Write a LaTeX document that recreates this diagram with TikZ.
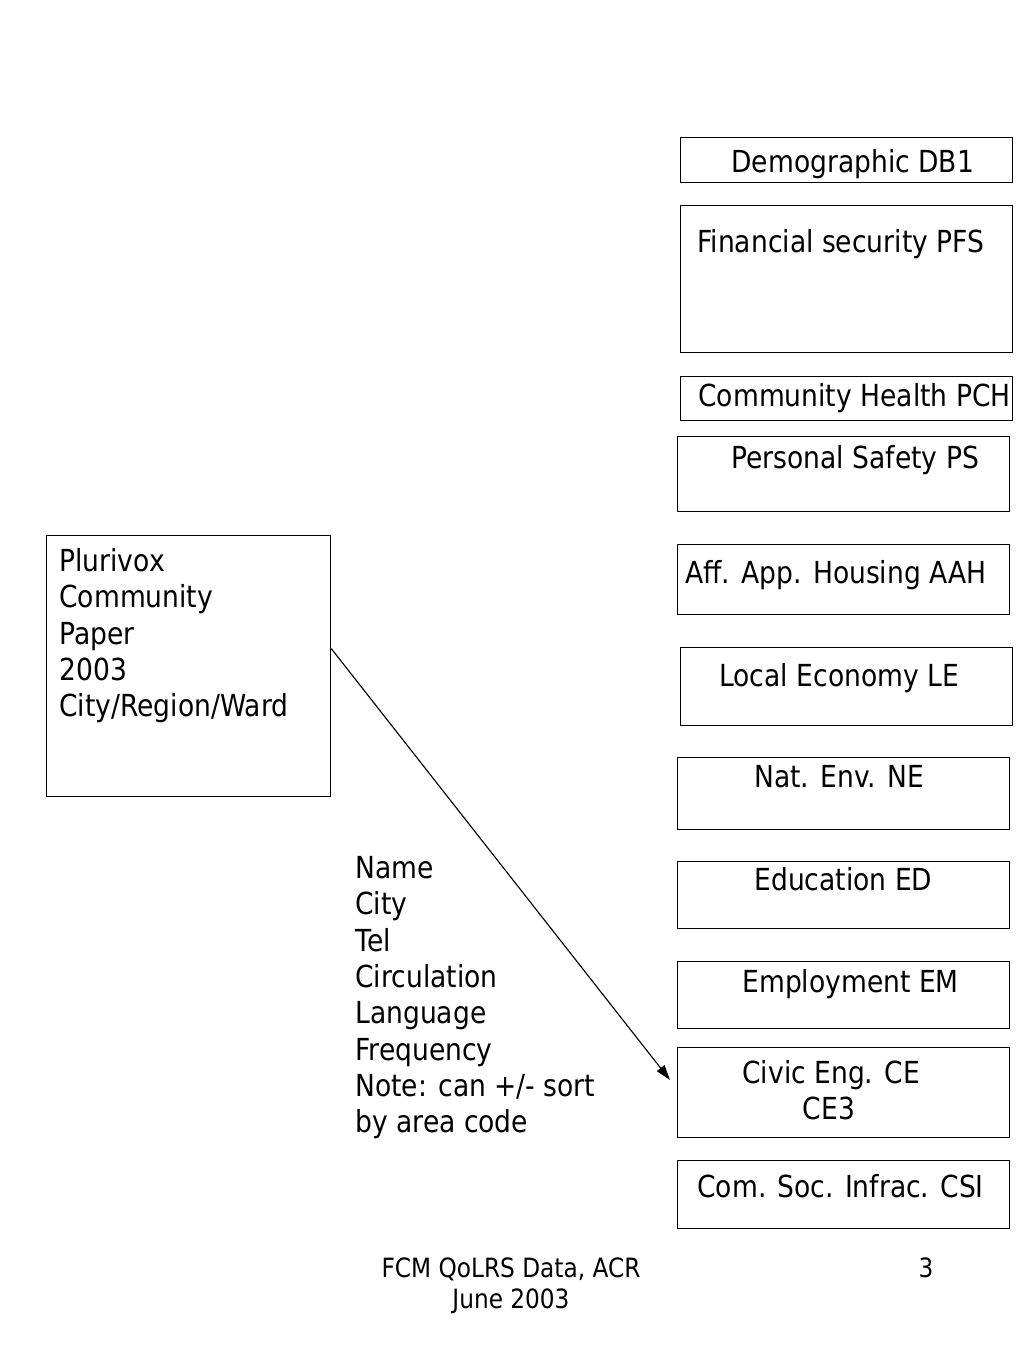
\documentclass[tikz,border=0pt]{standalone}
\usepackage{fontspec}
\setmainfont[FakeStretch=0.875]{DejaVu Sans}
\usetikzlibrary{arrows.meta,calc}
\begin{document}
\begin{tikzpicture}[x=0.52734pt,y=-0.52734pt,
  box/.style={draw=black,line width=0.65pt,rectangle,inner sep=0pt,anchor=north west},
  txt/.style={inner sep=0pt,anchor=base west,font=\fontsize{16}{19.15}\selectfont},
  ml/.style={inner sep=0pt,anchor=north west,align=left,font=\fontsize{16}{19.15}\selectfont},
  foot/.style={inner sep=0pt,anchor=base,align=center,font=\fontsize{14}{16.4}\selectfont},
  conn/.style={draw=black,line width=0.6pt,-{Triangle[length=8pt,width=5pt]}}]
\useasboundingbox (0,0) rectangle (1024,1365);
\newcommand{\bx}[5]{\node[box,minimum width={(#4-#2)*0.52734pt},minimum height={(#5-#3)*0.52734pt}] (#1) at (#2,#3) {};}
\bx{db}{680}{137}{1012}{182}
\bx{pfs}{680}{205}{1012}{352}
\bx{pch}{680}{376}{1012}{420}
\bx{ps}{677}{436}{1009}{511}
\bx{aah}{677}{544}{1009}{614}
\bx{le}{680}{647}{1012}{725}
\bx{ne}{677}{757}{1009}{829}
\bx{ed}{677}{861}{1009}{928}
\bx{em}{677}{961}{1009}{1028}
\bx{ce}{677}{1047}{1009}{1137}
\bx{csi}{677}{1160}{1009}{1228}
\bx{pv}{46}{535}{330}{796}
\node[txt] (tdb) at (731,173) {Demographic DB1};
\node[txt] (tpfs) at (697,253) {Financial security PFS};
\node[txt] (tpch) at (698,407) {Community Health PCH};
\node[txt] (tps) at (731,469) {Personal Safety PS};
\node[txt] (taah) at (685,583) {Aff. App. Housing AAH};
\node[txt] (tle) at (719,686) {Local Economy LE};
\node[txt] (tne) at (754,787) {Nat. Env. NE};
\node[txt] (ted) at (754,890) {Education ED};
\node[txt] (tem) at (742,992) {Employment EM};
\node[txt] (tce) at (742,1083) {Civic Eng. CE};
\node[txt,anchor=base] (tce3) at (829,1119) {CE3};
\node[txt] (tcsi) at (697,1197) {Com. Soc. Infrac. CSI};
\node[ml] (tpv) at (59,548) {Plurivox\\Community\\Paper\\2003\\City/Region/Ward};
\node[ml] (tlist) at (355,856) {Name\\City\\Tel\\Circulation\\Language\\Frequency\\Note: can +/- sort\\by area code};
\node[foot] (f1) at (511,1277) {FCM QoLRS Data, ACR};
\node[foot] (f2) at (511,1308) {June 2003};
\node[foot] (f3) at (926,1277) {3};
\coordinate (as) at ($(pv.north east)!0.433!(pv.south east)$);
\coordinate (ae) at (670,1080);
\draw[conn] (as) -- (ae);
\end{tikzpicture}
\end{document}
